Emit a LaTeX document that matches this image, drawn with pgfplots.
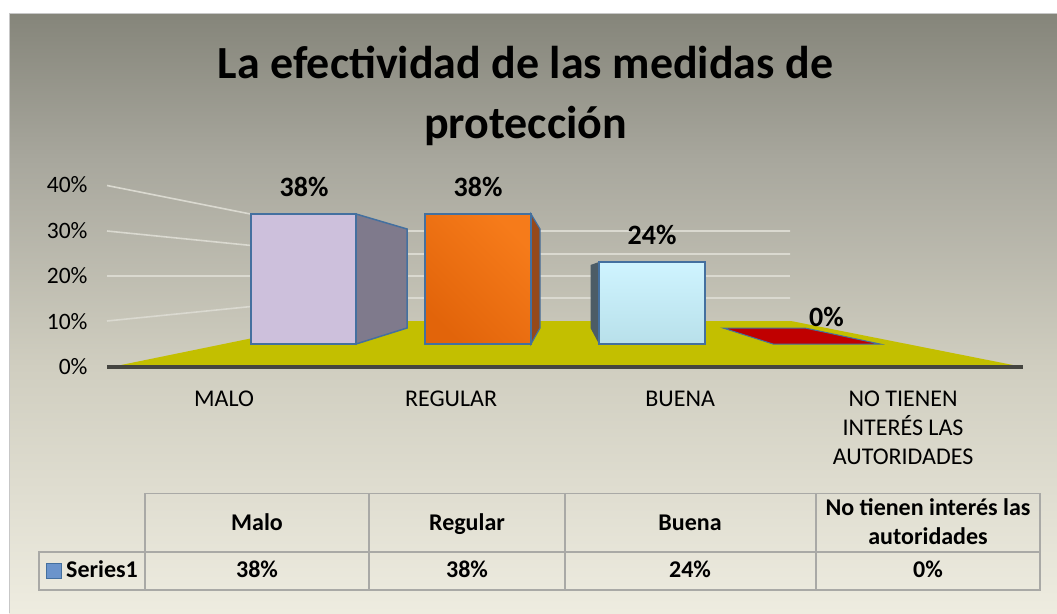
\documentclass[border=0pt]{standalone}
\usepackage{fontspec}
\setmainfont{Carlito}
\usepackage{pgfplots}
\pgfplotsset{compat=1.18}
\definecolor{bgA}{HTML}{85857A}
\definecolor{bgB}{HTML}{A8A79D}
\definecolor{bgC}{HTML}{D0CEC0}
\definecolor{bgD}{HTML}{EEECE0}
\definecolor{edge}{HTML}{44709F}
\definecolor{floorc}{HTML}{C3BF00}
\definecolor{gridc}{HTML}{DAD9D0}
\definecolor{tabline}{HTML}{A9A9A6}
\definecolor{barlila}{HTML}{CDC0DC}
\definecolor{sidea}{HTML}{7F7A8C}
\definecolor{sideb}{HTML}{96491A}
\definecolor{sidec}{HTML}{4C5C66}
\definecolor{orangeA}{HTML}{E2640A}
\definecolor{orangeM}{HTML}{E66A0C}
\definecolor{orangeB}{HTML}{F67B1A}
\definecolor{blueA}{HTML}{CFF4FF}
\definecolor{blueB}{HTML}{B8E0EA}
\definecolor{redc}{HTML}{C00000}
\definecolor{baseline}{HTML}{454540}
\definecolor{keyc}{HTML}{6B94CB}
% a vertical shading only shows its middle 50bp inside the path
\pgfdeclareverticalshading{chartbg}{100bp}{
  color(0bp)=(bgD); color(25bp)=(bgD); color(45.5bp)=(bgC); color(62.75bp)=(bgB); color(75bp)=(bgA); color(100bp)=(bgA)}
\newcommand{\txt}{\fontsize{24}{29}\selectfont}
\pgfplotsset{
  pixelbox/.style={
    at={(0pt,0pt)}, anchor=south west, scale only axis,
    width=1057pt, height=613pt, xmin=0, xmax=1057, hide axis},
  px/.style={pixelbox, ymin=0, ymax=613, y dir=reverse},
  wallline/.style={gridc, line width=1.6pt},
  tabl/.style={tabline, line width=1.5pt},
}
\begin{document}
\begin{tikzpicture}
% background, walls, floor and the side faces, in picture pixels
\begin{axis}[px]
\addplot[fill=white, draw=none] coordinates {(0,0)(1057,0)(1057,613)(0,613)} -- cycle;
\addplot[draw=none, shading=chartbg] coordinates {(9,13)(1057,13)(1057,613)(9,613)} -- cycle;
\addplot[color=black!22, line width=1pt] coordinates {(9.5,613)(9.5,13.5)(1057,13.5)};
\addplot[wallline] coordinates {(107,185.5)(336,231)(790,231)};
\addplot[wallline] coordinates {(107,231)(336,254)(790,254)};
\addplot[wallline] coordinates {(107,276)(336,276)(790,276)};
\addplot[wallline] coordinates {(107,321)(336,298)(790,298)};
\addplot[fill=floorc, draw=none] coordinates {(121,365)(336,321)(791,321)(1013,365)} -- cycle;
\addplot[fill=sidea, draw=edge, line width=1.5pt] coordinates {(356,344)(356,214)(407,229)(407,328)} -- cycle;
\addplot[fill=sideb, draw=edge, line width=1.2pt] coordinates {(531,344)(531,214)(540,229)(540,328)} -- cycle;
\addplot[fill=sidec, draw=none] coordinates {(599,344)(599,262)(590.5,265)(590.5,328)} -- cycle;
\addplot[fill=redc, draw=edge, line width=1pt] coordinates {(723,328)(805,328)(880,344)(773,344)} -- cycle;
% data table
\addplot[tabl] coordinates {(145,552)(145,493.5)(1040,493.5)(1040,590)(39,590)(39,552)(1040,552)};
\addplot[tabl] coordinates {(145,552)(145,590)};
\addplot[tabl] coordinates {(369,493.5)(369,590)};
\addplot[tabl] coordinates {(565,493.5)(565,590)};
\addplot[tabl] coordinates {(816,493.5)(816,590)};
\addplot[fill=keyc, draw=edge, line width=1pt] coordinates {(46.5,563.5)(61,563.5)(61,578)(46.5,578)} -- cycle;
\node[font=\fontsize{46}{60}\selectfont\bfseries, align=center] at (axis cs:525.5,96)
  {La efectividad de las medidas de\\protección};
\tikzset{tb/.style={font=\txt\bfseries, anchor=base, inner sep=0pt}}
\node[tb, anchor=base west] at (axis cs:66,577.5) {Series1};
\node[tb] at (axis cs:257,530) {Malo};
\node[tb] at (axis cs:467,530) {Regular};
\node[tb] at (axis cs:690,530) {Buena};
\node[tb] at (axis cs:928,515) {No tienen interés las};
\node[tb] at (axis cs:928,544) {autoridades};
\node[tb] at (axis cs:257,577.5) {38\%};
\node[tb] at (axis cs:467,577.5) {38\%};
\node[tb] at (axis cs:690,577.5) {24\%};
\node[tb] at (axis cs:928,577.5) {0\%};
\end{axis}
% front faces of the bars, y is the value in percent on the front plane
\begin{axis}[pixelbox, ymin=-78.655, ymax=100.585]
\addplot[fill=barlila, draw=edge, line width=2pt] coordinates {(251,0)(251,38)(356,38)(356,0)} -- cycle;
\addplot[top color=orangeB, middle color=orangeM, bottom color=orangeA, shading angle=-45, draw=edge, line width=2pt]
  coordinates {(425,0)(425,38)(531,38)(531,0)} -- cycle;
\addplot[top color=blueA, bottom color=blueB, draw=edge, line width=2pt]
  coordinates {(599,0)(599,24)(705,24)(705,0)} -- cycle;
% data labels
\addplot[draw=none, point meta=y,
  nodes near coords={\pgfmathprintnumber{\pgfplotspointmeta}\%},
  nodes near coords style={font=\fontsize{28}{32}\selectfont\bfseries, anchor=center, yshift=27pt,
    /pgf/number format/assume math mode=true}]
  coordinates {(304,38)(478,38)(652,24)(826.5,0)};
\end{axis}
% value axis: 0-40 % on the left edge, categories below the base line
\begin{axis}[
  at={(107pt,246pt)}, anchor=south west, scale only axis,
  width=916pt, height=182pt,
  xmin=-0.517, xmax=3.53, ymin=0, ymax=40,
  axis x line=bottom, axis y line=left,
  x axis line style={draw=baseline, line width=3.7pt, -},
  y axis line style={draw=none},
  major tick length=0pt,
  xtick={0,1.003,2.015,3},
  xticklabels={\strut MALO,\strut REGULAR,\strut BUENA,{\strut NO TIENEN\\INTERÉS LAS\\AUTORIDADES}},
  xticklabel style={font=\txt, align=center, yshift=-16pt},
  ytick={0,10,20,30,40},
  yticklabel={\pgfmathprintnumber{\tick}\%},
  yticklabel style={font=\fontsize{23.5}{27}\selectfont, /pgf/number format/assume math mode=true, xshift=-16pt},
  tick style={draw=none},
]
\addplot[draw=none] coordinates {(0,38)(1,38)(2,24)(3,0)};
\end{axis}
\end{tikzpicture}
\end{document}
